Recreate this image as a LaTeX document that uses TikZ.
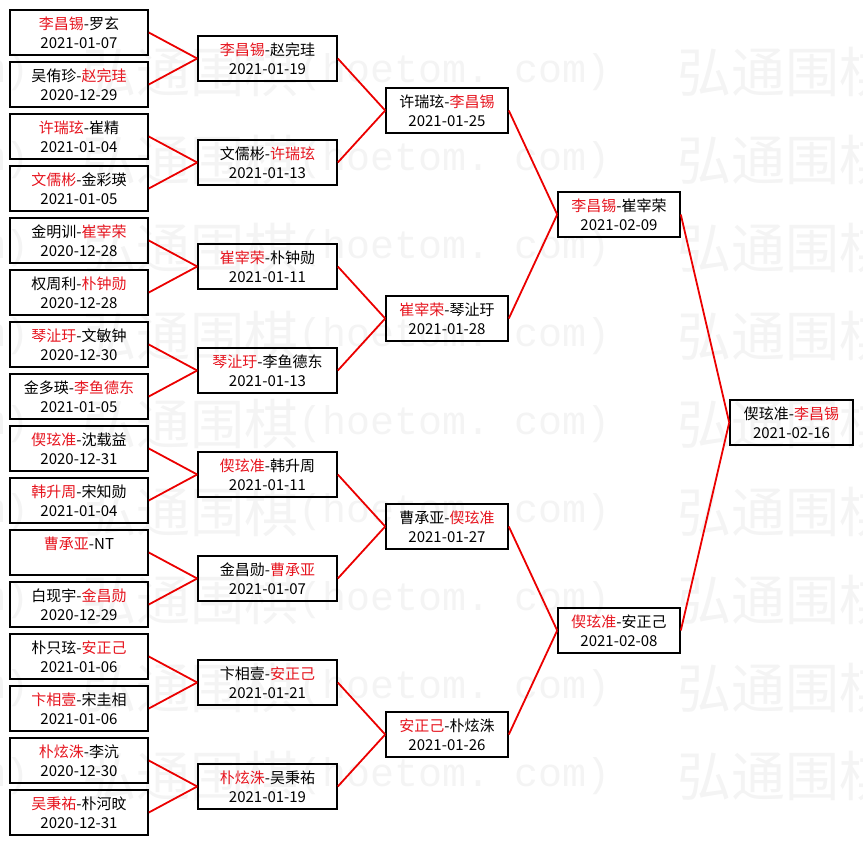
\documentclass[tikz,border=0pt]{standalone}
\usepackage{fontspec}
\setmainfont{Noto Sans CJK SC}
\newfontfamily\wmmono{Liberation Mono}
\definecolor{winred}{RGB}{230,20,30}
\definecolor{linkred}{RGB}{235,0,0}
\definecolor{wmgray}{RGB}{244,244,244}
\newcommand{\W}[1]{\textcolor{winred}{#1}}
\begin{document}
\begin{tikzpicture}[x=1pt,y=-1pt,
  match/.style={draw=black, line width=1.6pt, minimum height=45pt, inner sep=0pt, align=center, font=\fontsize{15}{19}\selectfont},
  colA/.style={match, minimum width=138pt},
  colB/.style={match, minimum width=139pt},
  colC/.style={match, minimum width=122pt},
  wmcjk/.style={text=wmgray, inner sep=0pt, anchor=west, font=\fontsize{54}{54}\selectfont},
  wmlat/.style={text=wmgray, inner sep=0pt, anchor=west, font=\wmmono\fontsize{40}{40}\selectfont},
  link/.style={draw=linkred, line width=1.8pt}]
\useasboundingbox (0,0) rectangle (863,845);
% watermark
\foreach \r/\y in {1/72,2/160,3/248,4/336,5/424,6/512,7/600,8/688,9/776}{
  \node[wmlat] (wma\r) at (-283,\y) {(hoetom.\kern24pt com)};
  \node[wmcjk] (wmb\r) at (82,\y) {弘通围棋};
  \node[wmlat] (wmc\r) at (298,\y) {(hoetom.\kern24pt com)};
  \node[wmcjk] (wmd\r) at (677,\y) {弘通围棋};
}
% round 1
\node[colA] (a1)  at (79,32.5)  {\W{李昌锡}-罗玄\\2021-01-07};
\node[colA] (a2)  at (79,84.5)  {吴侑珍-\W{赵完珪}\\2020-12-29};
\node[colA] (a3)  at (79,136.5) {\W{许瑞玹}-崔精\\2021-01-04};
\node[colA] (a4)  at (79,188.5) {\W{文儒彬}-金彩瑛\\2021-01-05};
\node[colA] (a5)  at (79,240.5) {金明训-\W{崔宰荣}\\2020-12-28};
\node[colA] (a6)  at (79,292.5) {权周利-\W{朴钟勋}\\2020-12-28};
\node[colA] (a7)  at (79,344.5) {\W{琴沚玗}-文敏钟\\2020-12-30};
\node[colA] (a8)  at (79,396.5) {金多瑛-\W{李鱼德东}\\2021-01-05};
\node[colA] (a9)  at (79,448.5) {\W{偰玹准}-沈载益\\2020-12-31};
\node[colA] (a10) at (79,500.5) {\W{韩升周}-宋知勋\\2021-01-04};
\node[colA] (a11) at (79,552.5) {\W{曹承亚}-NT\\\phantom{2021-01-01}};
\node[colA] (a12) at (79,604.5) {白现宇-\W{金昌勋}\\2020-12-29};
\node[colA] (a13) at (79,656.5) {朴只玹-\W{安正己}\\2021-01-06};
\node[colA] (a14) at (79,708.5) {\W{卞相壹}-宋圭相\\2021-01-06};
\node[colA] (a15) at (79,760.5) {\W{朴炫洙}-李沆\\2020-12-30};
\node[colA] (a16) at (79,812.5) {\W{吴秉祐}-朴河旼\\2020-12-31};
% round 2
\node[colB] (b1) at (267.5,58.5)  {\W{李昌锡}-赵完珪\\2021-01-19};
\node[colB] (b2) at (267.5,162.5) {文儒彬-\W{许瑞玹}\\2021-01-13};
\node[colB] (b3) at (267.5,266.5) {\W{崔宰荣}-朴钟勋\\2021-01-11};
\node[colB] (b4) at (267.5,370.5) {\W{琴沚玗}-李鱼德东\\2021-01-13};
\node[colB] (b5) at (267.5,474.5) {\W{偰玹准}-韩升周\\2021-01-11};
\node[colB] (b6) at (267.5,578.5) {金昌勋-\W{曹承亚}\\2021-01-07};
\node[colB] (b7) at (267.5,682.5) {卞相壹-\W{安正己}\\2021-01-21};
\node[colB] (b8) at (267.5,786.5) {\W{朴炫洙}-吴秉祐\\2021-01-19};
% round 3
\node[colC] (c1) at (447,110.5) {许瑞玹-\W{李昌锡}\\2021-01-25};
\node[colC] (c2) at (447,318.5) {\W{崔宰荣}-琴沚玗\\2021-01-28};
\node[colC] (c3) at (447,526.5) {曹承亚-\W{偰玹准}\\2021-01-27};
\node[colC] (c4) at (447,734.5) {\W{安正己}-朴炫洙\\2021-01-26};
% round 4
\node[colC] (d1) at (619,214.5) {\W{李昌锡}-崔宰荣\\2021-02-09};
\node[colC] (d2) at (619,630.5) {\W{偰玹准}-安正己\\2021-02-08};
% final
\node[colC, minimum width=123pt] (e1) at (791.5,422.5) {偰玹准-\W{李昌锡}\\2021-02-16};
% connectors
\foreach \i/\p in {1/1,2/1,3/2,4/2,5/3,6/3,7/4,8/4,9/5,10/5,11/6,12/6,13/7,14/7,15/8,16/8}
  \draw[link] (a\i.east) -- (b\p.west);
\foreach \i/\p in {1/1,2/1,3/2,4/2,5/3,6/3,7/4,8/4}
  \draw[link] (b\i.east) -- (c\p.west);
\foreach \i/\p in {1/1,2/1,3/2,4/2}
  \draw[link] (c\i.east) -- (d\p.west);
\draw[link] (d1.east) -- (e1.west);
\draw[link] (d2.east) -- (e1.west);
\end{tikzpicture}
\end{document}
